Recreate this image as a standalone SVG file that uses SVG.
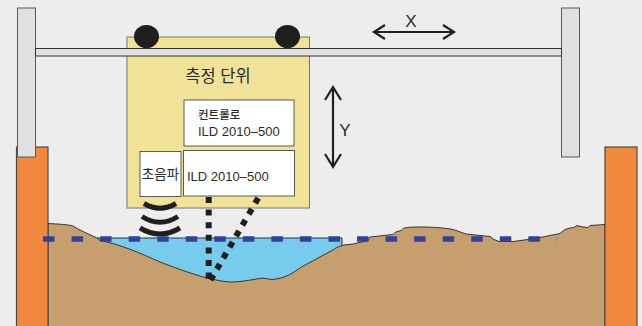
<svg xmlns="http://www.w3.org/2000/svg" width="642" height="326" viewBox="0 0 642 326">
<style>
.t{font-family:"Liberation Sans","Noto Sans CJK KR",sans-serif;fill:#2b2b2b}
.box{fill:#fff;stroke:#58585a;stroke-width:1}
.post{fill:#dfe0e2;stroke:#58585a;stroke-width:1}
.col{fill:#f0893d;stroke:#4a4a4a;stroke-width:1.2}
.arr{fill:none;stroke:#1f1f1f;stroke-width:2.2}
.wave{fill:none;stroke:#1f1f1f;stroke-width:5}
.dot{fill:none;stroke:#1f1f1f;stroke-width:6}
.wl{fill:none;stroke:#35409a;stroke-width:5.5;stroke-dasharray:11.500 17.050}
</style>
<rect width="642" height="326" fill="#ededee"/>
<g id="water"><path d="M97 238H342V262L290 285H200L97 240Z" fill="#77cbec" stroke="#333" stroke-width="1"/></g>
<g id="ground"><path id="g" d="M48 223.500C58 224 68 224.500 73 226L78 229L83 231.500L97 238L100 240.500C122 245 140 253 160 262C175 268 190 273 203 277C215 280 225 282 232 282C242 282 255 279 263 278C268 279 272 280 276 279C282 278 288 276 294 272C298 269 302 267 305 265C315 260 325 254 333 250C337 247 340 246 344 245L353 244L368 240.500L370 237L393 234.500L396 232L401 230.500L404 228C415 226 440 227 453 229.500L459 231.500L466 234L490 236.500L494 239.500L499 241.500H513L528 239.500L540 237.500L560 233.500L565 229.500L570 228L574 227.500L577 225.500L583 227L588 227.500L590 225.500L605 224.500V332H48Z" fill="#c79f6e" stroke="#3a352c" stroke-width="1"/></g>
<g id="column-left"><rect class="col" x="16.500" y="147" width="31.500" height="185"/></g>
<g id="column-right"><rect class="col" x="605" y="147" width="32" height="185"/></g>
<g id="post-left"><rect class="post" x="17.500" y="8" width="18" height="149"/></g>
<g id="post-right"><rect class="post" x="561.500" y="8" width="18" height="149"/></g>
<g id="unit"><rect x="127" y="37" width="182.500" height="171" fill="#f0e297" stroke="#77766a" stroke-width="1"/>
<text class="t" x="218" y="82" font-size="16.500" text-anchor="middle">측정 단위</text></g>
<g id="rail"><rect x="35.500" y="48.500" width="526" height="7.500" fill="#dfe0e2" stroke="#333" stroke-width="1"/></g>
<g id="wheel-left"><ellipse cx="146.500" cy="36.500" rx="12.500" ry="11.500" fill="#1f1f1f"/></g>
<g id="wheel-right"><ellipse cx="287.500" cy="36.500" rx="12.500" ry="11.500" fill="#1f1f1f"/></g>
<g id="controller"><rect class="box" x="184" y="100" width="110" height="46"/>
<text class="t" x="198" y="119" font-size="11.500" font-weight="500">컨트롤로</text>
<text class="t" x="198" y="136" font-size="13">ILD 2010–500</text></g>
<g id="sensor"><rect class="box" x="183.500" y="150.500" width="111" height="45.500"/>
<text class="t" x="187" y="181" font-size="13">ILD 2010–500</text></g>
<g id="ultrasound"><rect class="box" x="140" y="151.500" width="41" height="45"/>
<text class="t" x="160.500" y="179" font-size="13.500" text-anchor="middle">초음파</text></g>
<g id="connectors">
<path class="arr" d="M374 32H454M385 25L374 32L385 39M443 25L454 32L443 39"/>
<path class="arr" d="M333 87V167M325 100L333 87L341 100M325 154L333 167L341 154"/>
<path class="wave" d="M144 203.500Q160 213 176 203.500M142 216.500Q160 228 178 216.500M140 228Q160 240 180 228"/>
<path class="dot" stroke-dasharray="6 6.600" d="M208.700 197V280"/>
<path class="dot" stroke-dasharray="6 6.700" d="M258.200 198.100L210.500 280"/>
<path class="wl" d="M43 239H540"/>
<path d="M556.500 236.500V241.500" fill="none" stroke="#7d7aa0" stroke-width="0.800"/>
</g>
<g id="labels">
<text class="t" x="411" y="27" font-size="17" text-anchor="middle">X</text>
<text class="t" x="345" y="136" font-size="17" text-anchor="middle">Y</text>
</g>
</svg>
